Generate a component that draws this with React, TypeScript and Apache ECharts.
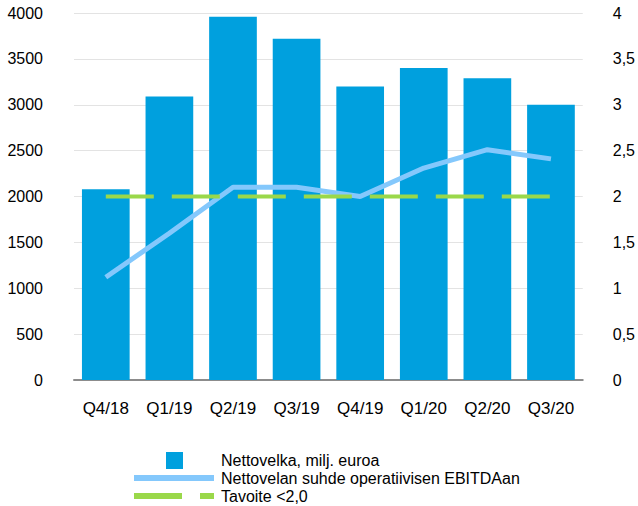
import React, { useEffect, useRef } from "react";
import * as echarts from "echarts";

const categories = ["Q4/18", "Q1/19", "Q2/19", "Q3/19", "Q4/19", "Q1/20", "Q2/20", "Q3/20"];
const netDebt = [2080, 3090, 3960, 3720, 3200, 3400, 3290, 3000];
const ratio = [1.12, 1.6, 2.1, 2.1, 2.0, 2.31, 2.51, 2.41];
const target = [2, 2, 2, 2, 2, 2, 2, 2];
const leftTicks = [0, 500, 1000, 1500, 2000, 2500, 3000, 3500, 4000];
const rightTicks = [0, 0.5, 1, 1.5, 2, 2.5, 3, 3.5, 4];

const S1 = "Nettovelka, milj. euroa";
const S2 = "Nettovelan suhde operatiivisen EBITDAan";
const S3 = "Tavoite <2,0";

export default function App() {
  const ref = useRef<HTMLDivElement>(null);
  useEffect(() => {
    if (!ref.current) return;
    const chart = echarts.init(ref.current, null, { renderer: "svg" });
    const font = "'Liberation Sans', Arial, sans-serif";
    const txt = { fontFamily: font, fontSize: 16, color: "#000" };
    const legTxt = { ...txt, lineHeight: 16 };
    chart.setOption({
      animation: false,
      textStyle: { fontFamily: font },
      grid: { left: 74, right: 55, top: 13, bottom: 126 },
      legend: [
        {
          data: [{ name: S1, icon: "rect" }],
          left: 161,
          top: 447,
          itemWidth: 17,
          itemHeight: 17,
          textStyle: { ...legTxt, padding: [0, 0, 0, 33] },
        },
        {
          data: [{ name: S2, icon: "rect" }],
          left: 129,
          top: 465,
          itemWidth: 80,
          itemHeight: 6,
          textStyle: { ...legTxt, padding: [0, 0, 0, 2] },
        },
        {
          data: [{ name: S3, icon: "path://M0,0h48v6h-48z M66,0h14v6h-14z" }],
          left: 129,
          top: 483,
          itemWidth: 80,
          itemHeight: 6,
          textStyle: { ...legTxt, padding: [0, 0, 0, 2] },
        },
      ],
      xAxis: {
        type: "category",
        data: categories,
        axisTick: { show: false },
        axisLine: { lineStyle: { color: "#8c8c8c", width: 2 } },
        axisLabel: { ...txt, fontSize: 17, margin: 20 },
      },
      yAxis: [
        {
          type: "value",
          min: 0,
          max: 4000,
          interval: 500,
          axisLine: { show: false },
          axisTick: { show: false },
          splitLine: { lineStyle: { color: "#e3e3e3", width: 1 } },
          axisLabel: {
            ...txt,
            margin: 31,
            formatter: (v: number) => (leftTicks.includes(v) ? String(v) : ""),
          },
        },
        {
          type: "value",
          min: 0,
          max: 4,
          interval: 0.5,
          position: "right",
          axisLine: { show: false },
          axisTick: { show: false },
          splitLine: { show: false },
          axisLabel: {
            ...txt,
            margin: 30,
            formatter: (v: number) =>
              rightTicks.includes(v) ? String(v).replace(".", ",") : "",
          },
        },
      ],
      series: [
        {
          name: S1,
          type: "bar",
          data: netDebt,
          barCategoryGap: "25%",
          itemStyle: { color: "#00a0de" },
        },
        {
          name: S2,
          type: "line",
          yAxisIndex: 1,
          data: ratio,
          symbol: "none",
          lineStyle: { color: "#84c8fc", width: 5 },
          itemStyle: { color: "#84c8fc" },
        },
        {
          name: S3,
          type: "line",
          yAxisIndex: 1,
          data: target,
          symbol: "none",
          lineStyle: { color: "#9ad84a", width: 4, type: [48, 18] },
          itemStyle: { color: "#9ad84a" },
        },
      ],
    });
    return () => chart.dispose();
  }, []);
  return (
    <div
      ref={ref}
      style={{ position: "absolute", left: 0, top: 0, width: 638, height: 506 }}
    />
  );
}
